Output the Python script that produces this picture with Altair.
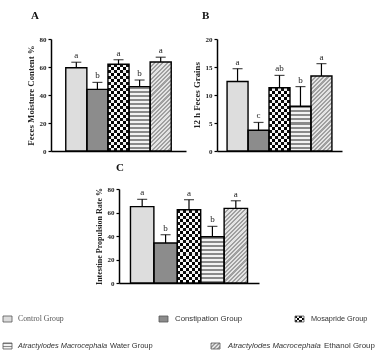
import altair as alt
import pandas as pd

# ---------------- data ----------------
groups = ["Control Group", "Constipation Group", "Mosapride Group",
          "AM Water Group", "AM Ethanol Group"]

A_vals = [59.5, 44.0, 62.0, 46.0, 63.6]
A_errs = [3.9, 5.0, 3.2, 4.7, 3.4]
A_lets = ["a", "b", "a", "b", "a"]

B_vals = [12.4, 3.7, 11.3, 8.0, 13.4]
B_errs = [2.3, 1.4, 2.2, 3.5, 2.2]
B_lets = ["a", "c", "ab", "b", "a"]

C_vals = [65.0, 34.0, 62.4, 39.4, 63.5]
C_errs = [6.2, 7.1, 8.5, 8.8, 6.5]
C_lets = ["a", "b", "a", "b", "a"]

SERIF = "Liberation Serif"
SANS = "Liberation Sans"
CLEAR = "rgba(255,255,255,0)"


def stripes(n, c1, c2, x2, y2):
    n = max(2, int(round(n)))
    stops = []
    for i in range(n):
        c = c1 if i % 2 == 0 else c2
        stops.append(alt.GradientStop(color=c, offset=i / n))
        stops.append(alt.GradientStop(color=c, offset=(i + 1) / n))
    return alt.LinearGradient(gradient="linear", stops=stops, x1=0, y1=0, x2=x2, y2=y2)


def diag(W, H, period, c1, c2):
    k = (W * W + H * H) / (W + H)
    n = (W + H) / 1.414 / (period / 2)
    return stripes(n, c1, c2, W / k, H / k)


solid = ["#dddddd", "#8c8c8c", "#ffffff", "#ffffff", "#d8d8d8"]


def panel(vals, errs, lets, ymax, ystep, ytitle, title, width, height, po, title_dx, title_off, tfs):
    df = pd.DataFrame({"group": groups, "value": vals, "err": errs, "letter": lets})
    df["top"] = df["value"] + df["err"]
    ppu = height / ymax
    bw = width / (5 + 2 * po)
    xenc = alt.X("group:N", sort=groups,
                 scale=alt.Scale(domain=groups, paddingInner=0, paddingOuter=po),
                 axis=alt.Axis(labels=False, ticks=False, title=None,
                               domainColor="black", domainWidth=1.5))
    ysc = alt.Scale(domain=[0, ymax], nice=False, zero=True)
    yax = alt.Axis(values=list(range(0, ymax + 1, ystep)), title=ytitle, grid=False,
                   domainColor="black", domainWidth=1.5, tickColor="black", tickWidth=1.2,
                   tickSize=3, labelFont=SERIF, labelFontWeight="bold", labelFontSize=7,
                   labelColor="#222", labelPadding=2, labelOverlap=False, labelFlush=False,
                   titleFont=SERIF, titleFontWeight="bold",
                   titleFontSize=tfs, titleColor="#222", titlePadding=4)
    y = alt.Y("value:Q", scale=ysc, axis=yax)
    ytop = alt.Y("top:Q", scale=ysc, axis=yax)
    base = alt.Chart(df)

    fills = base.mark_bar(strokeWidth=0).encode(
        x=xenc, y=y,
        color=alt.Color("group:N", scale=alt.Scale(domain=groups, range=solid), legend=None))

    hm = vals[2] * ppu
    mos1 = base.transform_filter(alt.datum.group == groups[2]).mark_bar(
        strokeWidth=0, fill=stripes(hm / 3, "#111111", "#ffffff", 0, 1)).encode(x=xenc, y=y)
    mos2 = base.transform_filter(alt.datum.group == groups[2]).mark_bar(
        strokeWidth=0, blend="difference",
        fill=stripes(bw / 3, CLEAR, "#ffffff", 1, 0)).encode(x=xenc, y=y)

    hw = vals[3] * ppu
    water = base.transform_filter(alt.datum.group == groups[3]).mark_bar(
        strokeWidth=0, fill=stripes(hw / 2, "#8a8a8a", "#f2f2f2", 0, 1)).encode(x=xenc, y=y)

    he = vals[4] * ppu
    eth = base.transform_filter(alt.datum.group == groups[4]).mark_bar(
        strokeWidth=0, fill=diag(bw, he, 3, "#a0a0a0", "#e4e4e4")).encode(x=xenc, y=y)

    outline = base.mark_bar(fillOpacity=0, stroke="black", strokeWidth=1.4).encode(x=xenc, y=y)

    err = base.mark_rule(color="black", strokeWidth=1.2).encode(x=xenc, y=y, y2="top:Q")
    cap = base.mark_tick(color="black", thickness=1.2, size=10).encode(x=xenc, y=ytop)
    txt = base.mark_text(font=SERIF, fontSize=9, baseline="bottom", dy=-2, color="#222").encode(
        x=xenc, y=ytop, text="letter:N")

    return alt.layer(fills, mos1, mos2, water, eth, outline, err, cap, txt).properties(
        width=width, height=height,
        title=alt.TitleParams(title, anchor="start", font=SERIF, fontSize=11,
                              fontWeight="bold", color="#111", dx=title_dx, offset=title_off))


pA = panel(A_vals, A_errs, A_lets, 80, 20, "Feces Moisture Content %", "A",
           135, 112, 0.7, 5, 14, 8.8)
pB = panel(B_vals, B_errs, B_lets, 20, 5, "12 h Feces Grains", "B",
           125, 112, 0.48, 10, 14, 8.8)
pC = panel(C_vals, C_errs, C_lets, 80, 20, "Intestine Propulsion Rate %", "C",
           140, 94, 0.49, 21, 12, 8.0)


def spacer(w):
    return alt.Chart(pd.DataFrame({"v": [0]})).mark_point(opacity=0, size=0).encode(
        x=alt.value(0), y=alt.value(0)).properties(width=w, height=1)


# ---------------- legend ----------------
leg_src = pd.DataFrame({"v": [0]})
lb = alt.Chart(leg_src)
X0 = 2
R1, R2 = 10, 37


def sw(x, yc, fill, blend=None):
    kw = dict(strokeWidth=0)
    if blend:
        kw["blend"] = blend
    return lb.mark_rect(fill=fill, **kw).encode(
        x=alt.value(x - X0), x2=alt.value(x - X0 + 9),
        y=alt.value(yc - 3), y2=alt.value(yc + 3))


def swbox(x, yc):
    return lb.mark_rect(fillOpacity=0, stroke="#555", strokeWidth=0.8).encode(
        x=alt.value(x - X0), x2=alt.value(x - X0 + 9),
        y=alt.value(yc - 3), y2=alt.value(yc + 3))


def lt(x, yc, text, font=SANS, style="normal", color="#333", size=7.6):
    return lb.mark_text(align="left", baseline="middle", font=font, fontSize=size,
                        fontStyle=style, color=color, text=text).encode(
        x=alt.value(x - X0), y=alt.value(yc))


leg_layers = []
leg_layers += [sw(3, R1, "#dcdcdc"), swbox(3, R1),
               lt(18, R1, "Control Group", font=SERIF, color="#555", size=7.8)]
leg_layers += [sw(159, R1, "#8c8c8c"), swbox(159, R1), lt(175, R1, "Constipation Group", size=7.8)]
leg_layers += [sw(295, R1, stripes(3, "#111111", "#ffffff", 0, 1)),
               sw(295, R1, stripes(4, CLEAR, "#ffffff", 1, 0), blend="difference"),
               swbox(295, R1), lt(311, R1, "Mosapride Group", size=7.3)]
leg_layers += [sw(3, R2, stripes(4, "#8a8a8a", "#f2f2f2", 0, 1)), swbox(3, R2),
               lt(18, R2, "Atractylodes Macrocephala", style="italic", size=7.4),
               lt(110, R2, "Water Group", size=7.5)]
leg_layers += [sw(211, R2, diag(9, 6, 2.5, "#a0a0a0", "#e4e4e4")), swbox(211, R2),
               lt(228, R2, "Atractylodes Macrocephala", style="italic", size=7.7),
               lt(324, R2, "Ethanol Group", size=7.9)]

legend = alt.layer(*leg_layers).properties(width=376, height=48)

row1 = alt.hconcat(spacer(24), alt.hconcat(pA, pB, spacing=6), spacing=0)
row2 = alt.hconcat(spacer(93), pC, spacing=0)

chart = alt.vconcat(alt.vconcat(row1, row2, spacing=8), legend, spacing=23).properties(
    padding={"left": 2, "top": 10, "right": 0, "bottom": 0}, background="white"
).configure_view(stroke=None)

chart.save("out.html", embed_options={"renderer": "svg", "actions": False})
